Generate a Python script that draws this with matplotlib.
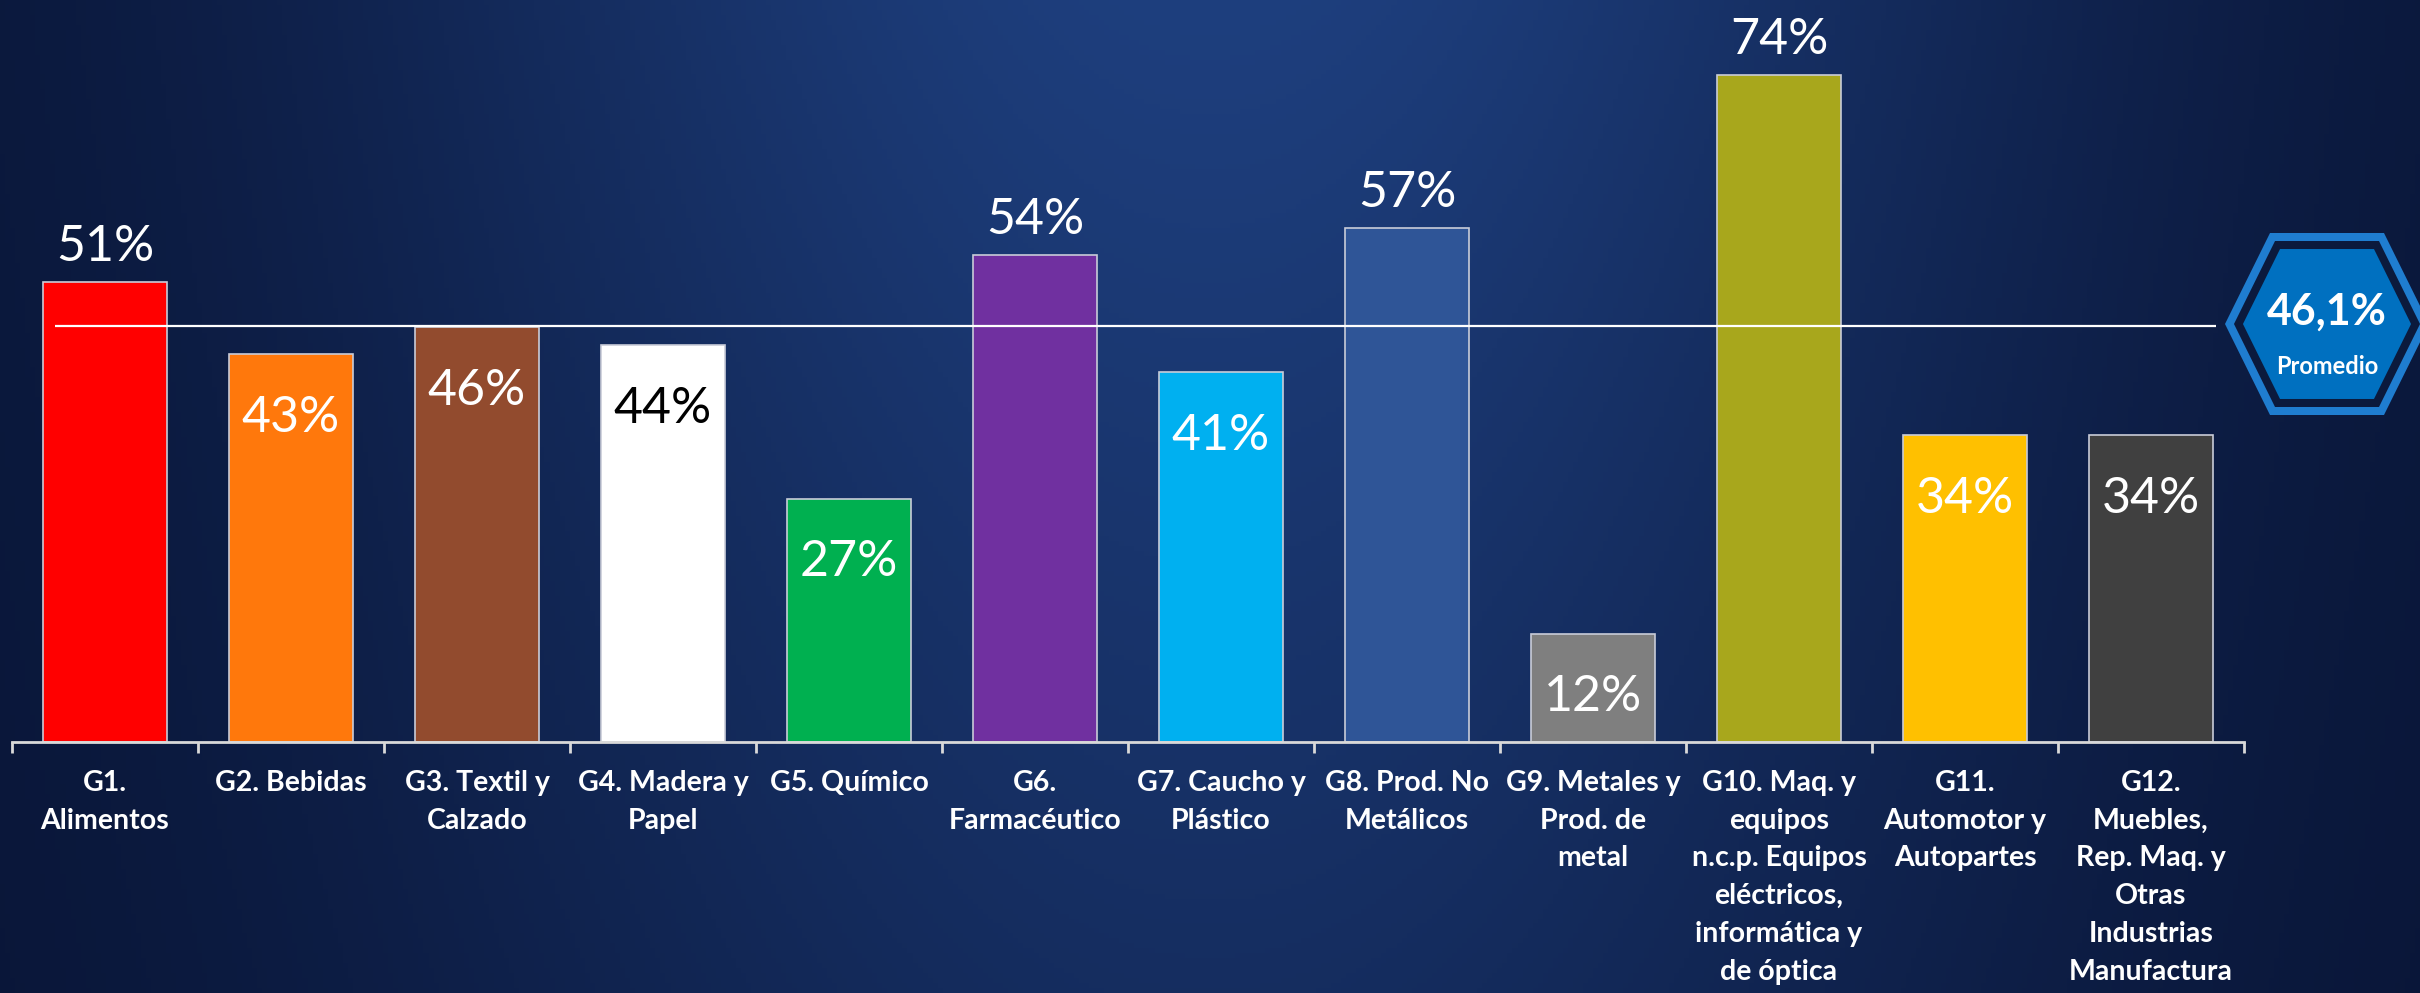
import numpy as np
import matplotlib.pyplot as plt
from matplotlib.patches import Polygon

# data
categories = ['G1.\nAlimentos', 'G2. Bebidas', 'G3. Textil y\nCalzado', 'G4. Madera y\nPapel',
              'G5. Químico', 'G6.\nFarmacéutico', 'G7. Caucho y\nPlástico', 'G8. Prod. No\nMetálicos',
              'G9. Metales y\nProd. de\nmetal',
              'G10. Maq. y\nequipos\nn.c.p. Equipos\neléctricos,\ninformática y\nde óptica',
              'G11.\nAutomotor y\nAutopartes',
              'G12.\nMuebles,\nRep. Maq. y\nOtras\nIndustrias\nManufactura']
values = [51, 43, 46, 44, 27, 54, 41, 57, 12, 74, 34, 34]
promedio = 46.1

bar_colors = ['#ff0000', '#ff780c', '#924b2e', '#ffffff', '#00b050', '#7030a0',
              '#00b0f0', '#2f5597', '#7f7f7f', '#a8a71c', '#ffc000', '#404040']
label_colors = ['white', 'white', 'white', 'black', 'white', 'white',
                'white', 'white', 'white', 'white', 'white', 'white']

plt.rcParams['font.family'] = ['Lato', 'DejaVu Sans']

fig = plt.figure(figsize=(24.2, 9.93), dpi=100)

# background: dark navy with a lighter glow in the middle
bg = fig.add_axes([0, 0, 1, 1])
bg.axis('off')
xx, yy = np.meshgrid(np.linspace(0, 1, 480), np.linspace(0, 1, 200))
dark = np.array([0x08, 0x13, 0x33]) / 255
light = np.array([0x1e, 0x3f, 0x7e]) / 255
glow = np.exp(-((xx - 0.5) / 0.36) ** 2) * (1 - 0.4 * yy)
img = dark + (light - dark) * glow[..., None]
bg.imshow(img, aspect='auto', extent=[0, 1, 0, 1], origin='upper')

# bars
ax = fig.add_axes([12 / 2420, 251 / 993, 2232 / 2420, 742 / 993])
ax.patch.set_alpha(0)
x = np.arange(len(values))
ax.bar(x, values, width=0.667, color=bar_colors, edgecolor='#c9ccd8', linewidth=1.2, zorder=2)
ax.set_xlim(-0.5, 11.5)
ax.set_ylim(0, 82.3)

# average line
ax.hlines(promedio, -0.27, 11.35, color='white', lw=1.6, zorder=3)

# value labels: above the bar if it passes the average, inside otherwise
for xi, v, c in zip(x, values, label_colors):
    if v > promedio:
        ax.text(xi, v + 2.3, f'{v}%', ha='center', va='baseline', fontsize=36, color='white')
    else:
        ax.text(xi, v - 8.6, f'{v}%', ha='center', va='baseline', fontsize=36, color=c, zorder=4)

for s in ['top', 'right', 'left']:
    ax.spines[s].set_visible(False)
ax.spines['bottom'].set_color('#d9d9d9')
ax.spines['bottom'].set_linewidth(2)
ax.set_yticks([])
ax.set_xticks(x)
ax.set_xticklabels(categories, fontsize=20.5, fontweight='bold', color='white', linespacing=1.56)
ax.set_xticks(np.arange(-0.5, 12, 1), minor=True)
ax.tick_params(axis='x', which='major', length=0, pad=20)
ax.tick_params(axis='x', which='minor', length=8, width=2, color='#d9d9d9')

# "Promedio" hexagon badge
hx = fig.add_axes([(2327 - 120) / 2420, (993 - 324 - 105) / 993, 240 / 2420, 210 / 993])
hx.set_xlim(-120, 120)
hx.set_ylim(-105, 105)
hx.axis('off')
hexagon = np.array([[102, 0], [57, 91], [-57, 91], [-102, 0], [-57, -91], [57, -91]])
for scale, col in [(1.0, '#1f7dd0'), (0.912, '#0b1a3d'), (0.824, '#0070c0')]:
    hx.add_patch(Polygon(hexagon * scale, closed=True, facecolor=col, edgecolor='none'))
hx.text(0, 12, f'{promedio:.1f}%'.replace('.', ','), ha='center', va='center',
        fontsize=31, fontweight='bold', color='white')
hx.text(0, -42, 'Promedio', ha='center', va='center', fontsize=17, fontweight='bold', color='white')

fig.savefig('out.png', dpi=100)
